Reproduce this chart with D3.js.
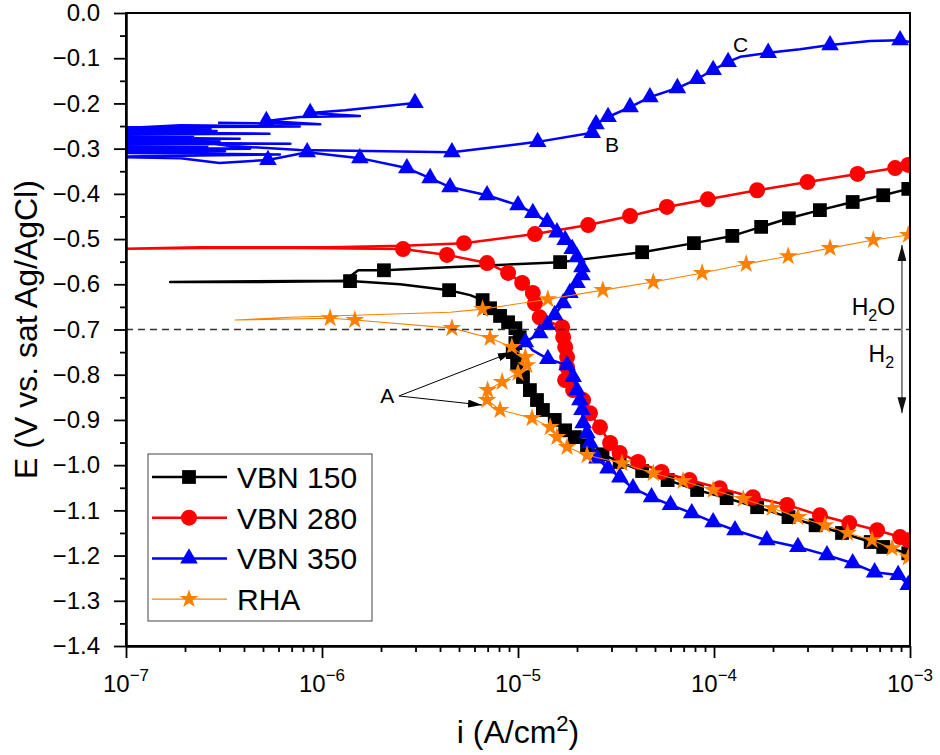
<!DOCTYPE html>
<html>
<head>
<meta charset="utf-8">
<script src="https://cdn.jsdelivr.net/npm/d3@7"></script>
<style>
  body { margin: 0; background: #fff; }
  svg { display: block; font-family: "Liberation Sans", Arial, sans-serif; }
</style>
</head>
<body>
<script>
// [i (A/cm2), E (V), symbol shown]
var vbn150 = [
  [9.8e-4,-1.195,1],[7.3e-4,-1.181,1],[6.3e-4,-1.170,1],[4.5e-4,-1.150,1],[3.3e-4,-1.133,1],
  [2.4e-4,-1.115,1],[1.66e-4,-1.093,1],[1.16e-4,-1.073,1],[8.2e-5,-1.055,1],[5.8e-5,-1.033,1],
  [4.3e-5,-1.013,1],[3.3e-5,-0.993,1],[2.7e-5,-0.976,1],[2.25e-5,-0.956,1],[1.95e-5,-0.938,1],
  [1.74e-5,-0.923,1],[1.54e-5,-0.900,1],[1.34e-5,-0.878,1],[1.25e-5,-0.856,1],[1.15e-5,-0.834,1],
  [1.06e-5,-0.805,1],[9.9e-6,-0.774,1],[9.4e-6,-0.750,1],[9.7e-6,-0.730,1],[1.02e-5,-0.717,1],
  [9.7e-6,-0.697,1],[8.9e-6,-0.684,1],[8.1e-6,-0.670,1],[7.2e-6,-0.653,1],[6.6e-6,-0.635,1],
  [5.7e-6,-0.624,0],[4.45e-6,-0.613,1],[2.5e-6,-0.600,0],[1.39e-6,-0.593,1],[4.8e-7,-0.595,0],
  [1.68e-7,-0.595,0],[1.3e-6,-0.592,0],[1.53e-6,-0.569,0],[2.07e-6,-0.569,1],[5.7e-6,-0.560,0],
  [1.64e-5,-0.551,1],[4.3e-5,-0.529,1],[7.9e-5,-0.509,1],[1.24e-4,-0.493,1],[1.74e-4,-0.473,1],
  [2.41e-4,-0.454,1],[3.47e-4,-0.436,1],[5.1e-4,-0.418,1],[7.3e-4,-0.403,1],[9.8e-4,-0.389,1]
];

var vbn280 = [
  [9.8e-4,-1.166,1],[8.9e-4,-1.159,1],[6.8e-4,-1.144,1],[4.9e-4,-1.128,1],[3.47e-4,-1.111,1],
  [2.36e-4,-1.088,1],[1.58e-4,-1.071,1],[1.07e-4,-1.051,1],[7.5e-5,-1.033,1],[5.4e-5,-1.015,1],
  [4.1e-5,-0.993,1],[3.3e-5,-0.973,1],[2.95e-5,-0.951,1],[2.62e-5,-0.916,1],[2.33e-5,-0.885,1],
  [2.15e-5,-0.856,1],[1.91e-5,-0.834,1],[1.74e-5,-0.812,1],[1.78e-5,-0.783,1],[1.78e-5,-0.761,1],
  [1.74e-5,-0.739,1],[1.70e-5,-0.717,1],[1.68e-5,-0.695,1],[1.29e-5,-0.673,1],[1.22e-5,-0.642,1],
  [1.19e-5,-0.619,1],[1.05e-5,-0.597,1],[8.9e-6,-0.575,1],[6.95e-6,-0.553,1],[4.34e-6,-0.535,1],
  [2.59e-6,-0.522,1],[7.7e-7,-0.520,0],[2.4e-7,-0.520,0],[8.3e-8,-0.522,0],[2.4e-7,-0.518,0],
  [1.1e-6,-0.518,0],[2.59e-6,-0.515,0],[5.3e-6,-0.509,1],[1.22e-5,-0.489,1],[2.28e-5,-0.469,1],
  [3.73e-5,-0.449,1],[5.75e-5,-0.429,1],[9.3e-5,-0.412,1],[1.66e-4,-0.392,1],[3.0e-4,-0.374,1],
  [5.4e-4,-0.356,1],[8.4e-4,-0.343,1],[9.8e-4,-0.336,1]
];

var vbn350 = [
  [9.8e-4,-1.265,1],[8.7e-4,-1.243,1],[6.6e-4,-1.237,1],[5.1e-4,-1.217,1],[3.77e-4,-1.199,1],
  [2.68e-4,-1.181,1],[1.86e-4,-1.166,1],[1.28e-4,-1.144,1],[9.9e-5,-1.126,1],[7.7e-5,-1.106,1],
  [6.0e-5,-1.088,1],[4.8e-5,-1.071,1],[3.86e-5,-1.051,1],[3.31e-5,-1.027,1],[2.88e-5,-1.007,1],
  [2.53e-5,-0.985,1],[2.33e-5,-0.951,1],[2.25e-5,-0.929,1],[2.15e-5,-0.907,1],[2.12e-5,-0.878,1],
  [2.07e-5,-0.856,1],[2.00e-5,-0.834,1],[1.91e-5,-0.805,1],[1.78e-5,-0.779,1],[1.42e-5,-0.765,1],
  [1.19e-5,-0.746,0],[1.09e-5,-0.728,1],[1.29e-5,-0.708,1],[1.41e-5,-0.690,1],[1.54e-5,-0.668,1],
  [1.70e-5,-0.642,1],[1.84e-5,-0.619,1],[2.00e-5,-0.597,1],[2.12e-5,-0.580,1],[2.12e-5,-0.562,1],
  [2.00e-5,-0.540,1],[1.89e-5,-0.522,1],[1.74e-5,-0.502,1],[1.58e-5,-0.485,1],[1.41e-5,-0.462,1],
  [1.19e-5,-0.442,1],[1.00e-5,-0.425,1],[6.95e-6,-0.403,1],[4.5e-6,-0.385,1],[3.56e-6,-0.365,1],
  [2.71e-6,-0.343,1],[1.56e-6,-0.321,1],[8.4e-7,-0.308,1],[5.3e-7,-0.325,1],[3.0e-7,-0.332,0],
  [1.9e-7,-0.321,0],[7.4e-8,-0.318,0],[6.1e-7,-0.313,0],[7.4e-8,-0.309,0],[3.2e-7,-0.306,0],
  [7.4e-8,-0.303,0],[4.3e-7,-0.300,0],[7.4e-8,-0.297,0],[2.6e-7,-0.294,0],[7.4e-8,-0.291,0],
  [6.9e-7,-0.289,0],[7.4e-8,-0.286,0],[3.0e-7,-0.283,0],[7.4e-8,-0.280,0],[3.8e-7,-0.278,0],
  [7.4e-8,-0.275,0],[2.2e-7,-0.272,0],[7.4e-8,-0.269,0],[5.4e-7,-0.267,0],[7.4e-8,-0.264,0],
  [2.9e-7,-0.261,0],[7.4e-8,-0.258,0],[2.7e-7,-0.256,0],[7.4e-8,-0.253,0],[7.7e-7,-0.251,0],
  [1.9e-7,-0.248,0],[7.4e-8,-0.257,0],[3.4e-7,-0.294,0],[7.7e-7,-0.303,0],
  [4.6e-6,-0.308,1],[1.26e-5,-0.285,1],[2.39e-5,-0.265,1],[2.5e-5,-0.246,1],[2.88e-5,-0.230,1],
  [3.73e-5,-0.208,1],[4.71e-5,-0.186,1],[6.5e-5,-0.166,1],[8.2e-5,-0.146,1],[9.9e-5,-0.126,1],
  [1.18e-4,-0.108,1],[1.36e-4,-0.097,0],[1.89e-4,-0.088,1],[2.75e-4,-0.080,0],[3.91e-4,-0.071,1],
  [6.25e-4,-0.062,0],[8.9e-4,-0.060,1],[1.0e-3,-0.064,0]
];

var vbn350Spur = [
  [2.95e-7,-0.243,0],[9.8e-7,-0.246,0],[5.2e-7,-0.239,1],[7.7e-7,-0.230,0],[1.56e-6,-0.228,0],
  [8.7e-7,-0.221,1],[1.31e-6,-0.215,0],[2.98e-6,-0.199,1]
];

var rha = [
  [9.8e-4,-1.204,1],[8.1e-4,-1.184,1],[6.4e-4,-1.166,1],[4.8e-4,-1.150,1],[3.68e-4,-1.133,1],
  [2.68e-4,-1.115,1],[1.98e-4,-1.095,1],[1.41e-4,-1.075,1],[9.9e-5,-1.055,1],[6.95e-5,-1.035,1],
  [4.9e-5,-1.018,1],[3.39e-5,-0.996,1],[2.25e-5,-0.978,1],[1.78e-5,-0.960,1],[1.58e-5,-0.938,1],
  [1.46e-5,-0.916,1],[1.18e-5,-0.896,1],[8.1e-6,-0.878,1],[6.95e-6,-0.856,1],[7.0e-6,-0.834,1],
  [8.3e-6,-0.816,1],[1.0e-5,-0.796,1],[1.11e-5,-0.779,1],[1.09e-5,-0.761,1],[9.3e-6,-0.739,1],
  [7.2e-6,-0.719,1],[4.6e-6,-0.697,1],[1.47e-6,-0.679,1],[1.10e-6,-0.675,1],[3.6e-7,-0.679,0],
  [6.9e-7,-0.673,0],[4.5e-6,-0.662,0],[6.6e-6,-0.655,1],[1.42e-5,-0.633,1],[2.71e-5,-0.613,1],
  [4.9e-5,-0.595,1],[8.7e-5,-0.575,1],[1.46e-4,-0.555,1],[2.39e-4,-0.538,1],[3.91e-4,-0.520,1],
  [6.5e-4,-0.502,1],[9.8e-4,-0.491,1]
];

var seriesNames = ['VBN 150', 'VBN 280', 'VBN 350', 'RHA'];
var xMajorTicks = [1e-7, 1e-6, 1e-5, 1e-4, 1e-3];
var xTickExponents = ['−7', '−6', '−5', '−4', '−3'];
var yMajorTicks = d3.range(0, 15).map(function(k) { return -k / 10; });
var yMinorTicks = d3.range(0, 14).map(function(k) { return -0.05 - k / 10; });

var chart = function() {
  var svg, plot, x, y;

  var left = 126, right = 910, top = 13, bottom = 646;
  var fontFamily = '"Liberation Sans", Arial, sans-serif';

  var createSvg = function() {
    svg = d3.select('body').append('svg')
      .attr('width', 940)
      .attr('height', 755);

    x = d3.scaleLog().domain([1e-7, 1e-3]).range([left, right]);
    y = d3.scaleLinear().domain([-1.4, 0]).range([bottom, top]);

    var defs = svg.append('defs');
    defs.append('clipPath').attr('id', 'plot-clip')
      .append('rect')
      .attr('x', left).attr('y', top)
      .attr('width', right - left).attr('height', bottom - top);

    defs.append('marker').attr('id', 'head-a')
      .attr('markerUnits', 'userSpaceOnUse')
      .attr('viewBox', '0 0 14 8').attr('refX', 14).attr('refY', 4)
      .attr('markerWidth', 14).attr('markerHeight', 8)
      .attr('orient', 'auto')
      .append('path').attr('d', 'M0,0L14,4L0,8Z').attr('fill', '#000');

    defs.append('marker').attr('id', 'head-v')
      .attr('markerUnits', 'userSpaceOnUse')
      .attr('viewBox', '0 0 16 9').attr('refX', 16).attr('refY', 4.5)
      .attr('markerWidth', 16).attr('markerHeight', 9)
      .attr('orient', 'auto')
      .append('path').attr('d', 'M0,0L16,4.5L0,9Z').attr('fill', '#111');

    plot = svg.append('g').attr('clip-path', 'url(#plot-clip)');
  };

  var drawAxes = function() {
    var yAxis = svg.append('g').attr('transform', 'translate(' + left + ',0)')
      .call(d3.axisLeft(y).tickValues(yMajorTicks).tickSize(12).tickSizeOuter(0).tickPadding(14)
        .tickFormat(function(d) { return d.toFixed(1).replace('-', '−'); }));
    yAxis.attr('font-family', fontFamily).attr('font-size', 24);
    yAxis.selectAll('text').style('font-size', '24px').style('fill', '#000');

    svg.append('g').attr('transform', 'translate(' + left + ',0)')
      .call(d3.axisLeft(y).tickValues(yMinorTicks).tickSize(6).tickSizeOuter(0).tickFormat(''));

    var xMinor = [];
    xMajorTicks.slice(0, 4).forEach(function(d) {
      for(var k = 2; k < 10; k++) { xMinor.push(d * k); }
    });

    svg.append('g').attr('transform', 'translate(0,' + bottom + ')')
      .call(d3.axisBottom(x).tickValues(xMajorTicks).tickSize(12).tickSizeOuter(0).tickFormat(''));
    svg.append('g').attr('transform', 'translate(0,' + bottom + ')')
      .call(d3.axisBottom(x).tickValues(xMinor).tickSize(6).tickSizeOuter(0).tickFormat(''));

    svg.selectAll('.domain').attr('stroke', '#000').attr('stroke-width', 2);
    svg.selectAll('.tick line').attr('stroke', '#000').attr('stroke-width', 1.8);

    var labels = svg.append('g').selectAll('text')
      .data(xMajorTicks).enter().append('text')
      .attr('x', function(d) { return x(d); })
      .attr('y', 692)
      .attr('text-anchor', 'middle')
      .style('font-size', '24px');
    labels.append('tspan').text('10');
    labels.append('tspan')
      .attr('dy', -11)
      .style('font-size', '17px')
      .text(function(d, i) { return xTickExponents[i]; });

    svg.append('rect')
      .attr('x', left).attr('y', top)
      .attr('width', right - left).attr('height', bottom - top)
      .attr('fill', 'none').attr('stroke', '#000').attr('stroke-width', 2);

    var xt = svg.append('text')
      .attr('x', (left + right) / 2).attr('y', 743)
      .attr('text-anchor', 'middle')
      .style('font-size', '32px');
    xt.append('tspan').text('i (A/cm');
    xt.append('tspan').attr('dy', -12).style('font-size', '22px').text('2');
    xt.append('tspan').attr('dy', 12).text(')');

    svg.append('text')
      .attr('transform', 'translate(37,' + ((top + bottom) / 2) + ') rotate(-90)')
      .attr('text-anchor', 'middle')
      .style('font-size', '32px')
      .text('E (V vs. sat Ag/AgCl)');
  };

  var drawSeries = function(data, color, width, symbolType, symbolSize) {
    var line = d3.line()
      .x(function(d) { return x(d[0]); })
      .y(function(d) { return y(d[1]); });

    plot.append('path').datum(data)
      .attr('d', line)
      .attr('fill', 'none')
      .attr('stroke', color)
      .attr('stroke-width', width)
      .attr('stroke-linejoin', 'round');

    plot.append('g').selectAll('path')
      .data(data.filter(function(d) { return d[2]; }))
      .enter().append('path')
      .attr('transform', function(d) { return 'translate(' + x(d[0]) + ',' + y(d[1]) + ')'; })
      .attr('d', d3.symbol().type(symbolType).size(symbolSize))
      .attr('fill', color);
  };

  var drawGuides = function() {
    svg.append('line')
      .attr('x1', left).attr('x2', right)
      .attr('y1', y(-0.7)).attr('y2', y(-0.7))
      .attr('stroke', '#333').attr('stroke-width', 1.5)
      .attr('stroke-dasharray', '7,5');

    svg.append('line')
      .attr('x1', x(9.1e-4)).attr('x2', x(9.1e-4))
      .attr('y1', y(-0.7)).attr('y2', y(-0.513))
      .attr('stroke', '#111').attr('stroke-width', 1)
      .attr('marker-end', 'url(#head-v)');
    svg.append('line')
      .attr('x1', x(9.1e-4)).attr('x2', x(9.1e-4))
      .attr('y1', y(-0.7)).attr('y2', y(-0.885))
      .attr('stroke', '#111').attr('stroke-width', 1)
      .attr('marker-end', 'url(#head-v)');

    var h2o = svg.append('text')
      .attr('x', x(8.4e-4)).attr('y', y(-0.668))
      .attr('text-anchor', 'end').style('font-size', '23px');
    h2o.append('tspan').text('H');
    h2o.append('tspan').attr('dy', 6).style('font-size', '16px').text('2');
    h2o.append('tspan').attr('dy', -6).text('O');

    var h2 = svg.append('text')
      .attr('x', x(8.3e-4)).attr('y', y(-0.772))
      .attr('text-anchor', 'end').style('font-size', '23px');
    h2.append('tspan').text('H');
    h2.append('tspan').attr('dy', 6).style('font-size', '16px').text('2');

    svg.append('text')
      .attr('x', x(1.98e-6)).attr('y', y(-0.863))
      .style('font-size', '21px').text('A');
    [[9.3e-6, -0.750], [6.55e-6, -0.867]].forEach(function(tip) {
      svg.append('line')
        .attr('x1', x(2.47e-6)).attr('y1', y(-0.847))
        .attr('x2', x(tip[0])).attr('y2', y(tip[1]))
        .attr('stroke', '#000').attr('stroke-width', 1)
        .attr('marker-end', 'url(#head-a)');
    });

    svg.append('text')
      .attr('x', x(2.78e-5)).attr('y', y(-0.308))
      .style('font-size', '21px').text('B');
    svg.append('text')
      .attr('x', x(1.25e-4)).attr('y', y(-0.086))
      .style('font-size', '21px').text('C');
  };

  var drawLegend = function(items) {
    var g = svg.append('g');
    g.append('rect')
      .attr('x', 148).attr('y', 454)
      .attr('width', 224).attr('height', 167)
      .attr('fill', '#fff').attr('stroke', '#444').attr('stroke-width', 1);

    items.forEach(function(item, i) {
      var cy = 477 + i * 40.7;
      g.append('line')
        .attr('x1', 152).attr('x2', 227)
        .attr('y1', cy).attr('y2', cy)
        .attr('stroke', item.color).attr('stroke-width', item.width);
      g.append('path')
        .attr('transform', 'translate(189,' + cy + ')')
        .attr('d', d3.symbol().type(item.symbol).size(item.size))
        .attr('fill', item.color);
      g.append('text')
        .attr('x', 237).attr('y', cy + 11)
        .style('font-size', '30px')
        .text(item.name);
    });
  };

  var draw = function() {
    createSvg();
    drawGuides();
    drawSeries(vbn150, '#000000', 2.5, d3.symbolSquare, 190);
    drawSeries(vbn280, '#ff0000', 2.5, d3.symbolCircle, 200);
    drawSeries(vbn350, '#0000ff', 2.5, d3.symbolTriangle, 135);
    drawSeries(vbn350Spur, '#0000ff', 2.5, d3.symbolTriangle, 135);
    drawSeries(rha, '#ff8000', 1.1, d3.symbolStar, 110);
    drawAxes();
    drawLegend([
      {name: seriesNames[0], color: '#000000', width: 2.5, symbol: d3.symbolSquare, size: 190},
      {name: seriesNames[1], color: '#ff0000', width: 2.5, symbol: d3.symbolCircle, size: 200},
      {name: seriesNames[2], color: '#0000ff', width: 2.5, symbol: d3.symbolTriangle, size: 135},
      {name: seriesNames[3], color: '#ff8000', width: 1.1, symbol: d3.symbolStar, size: 110}
    ]);
  };

  return { draw: draw };
}();

chart.draw();
</script>
</body>
</html>
